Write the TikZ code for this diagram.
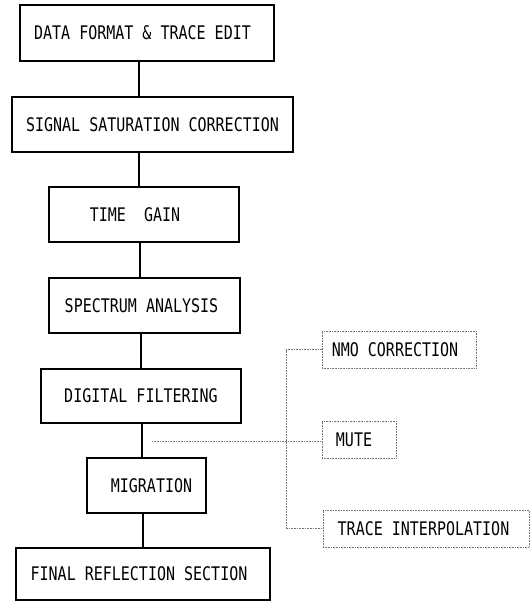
\documentclass[tikz,border=0pt]{standalone}
\usepackage{fontspec}
\usepackage{graphicx}
\newfontfamily\boxfont{DejaVu Sans Mono}
\newcommand{\tallt}[1]{\scalebox{1}[1.25]{#1}}
\begin{document}
\begin{tikzpicture}[x=1pt,y=-1pt,
  mainbox/.style={draw=black,line width=1.1pt,rectangle,inner sep=0pt,
    font=\boxfont\fontsize{15}{18}\selectfont,text=black},
  sidebox/.style={draw=black!55,densely dotted,line width=0.6pt,rectangle,inner sep=0pt,
    font=\boxfont\fontsize{15}{18}\selectfont,text=black},
  mainline/.style={line width=1.1pt,black},
  sideline/.style={draw=black!55,densely dotted,line width=0.6pt}]
\useasboundingbox (0,0) rectangle (530,601);
\node[mainbox,minimum width=254pt,minimum height=56pt] (a) at (147,33) {\tallt{DATA FORMAT \& TRACE EDIT}\hspace*{9pt}};
\node[mainbox,minimum width=281pt,minimum height=55pt] (b) at (152.5,124.5) {\tallt{SIGNAL SATURATION CORRECTION}};
\node[mainbox,minimum width=190pt,minimum height=55pt] (c) at (144,214.5) {\tallt{TIME\ \ GAIN}\hspace*{18pt}};
\node[mainbox,minimum width=191pt,minimum height=55pt] (d) at (144.5,305.5) {\tallt{SPECTRUM ANALYSIS}\hspace*{6pt}};
\node[mainbox,minimum width=200pt,minimum height=54pt] (e) at (141,396) {\tallt{DIGITAL FILTERING}};
\node[mainbox,minimum width=119pt,minimum height=55pt] (f) at (146.5,485.5) {\hspace*{10pt}\tallt{MIGRATION}};
\node[mainbox,minimum width=254pt,minimum height=52pt] (g) at (143,574) {\tallt{FINAL REFLECTION SECTION}\hspace*{8pt}};
\coordinate (s1) at (139,0);
\coordinate (s2) at (140,0);
\coordinate (s3) at (141,0);
\coordinate (s4) at (142,0);
\coordinate (s5) at (143,0);
\draw[mainline] (a.south -| s1) -- (b.north -| s1);
\draw[mainline] (b.south -| s1) -- (c.north -| s1);
\draw[mainline] (c.south -| s2) -- (d.north -| s2);
\draw[mainline] (d.south -| s3) -- (e.north -| s3);
\draw[mainline] (e.south -| s4) -- (f.north -| s4);
\draw[mainline] (f.south -| s5) -- (g.north -| s5);
\node[sidebox,minimum width=154pt,minimum height=37pt] (n) at (399,349.5) {\tallt{NMO CORRECTION}\hspace*{8pt}};
\node[sidebox,minimum width=74pt,minimum height=37pt] (m) at (359,439.5) {\tallt{MUTE}\hspace*{10pt}};
\node[sidebox,minimum width=206pt,minimum height=37pt] (t) at (426,528.5) {\tallt{TRACE INTERPOLATION}\hspace*{5pt}};
\coordinate (v) at (286,0);
\coordinate (m0) at (152,441);
\draw[sideline] (n.west) -- (n.west -| v) -- (t.west -| v) -- (t.west);
\draw[sideline] (m0) -- (m.west |- m0);
\end{tikzpicture}
\end{document}
